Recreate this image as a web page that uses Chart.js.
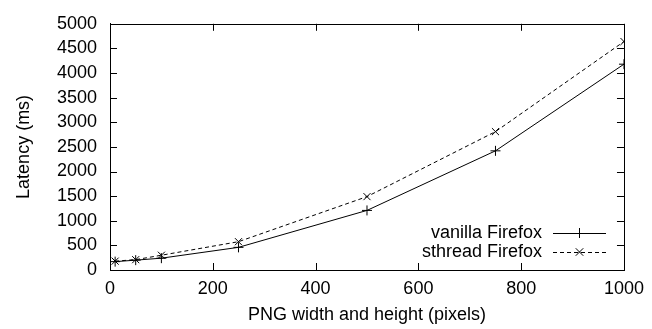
<!DOCTYPE html>
<html><head><meta charset="utf-8">
<script src="https://cdn.jsdelivr.net/npm/chart.js@4.4.1/dist/chart.umd.min.js"></script>
<style>html,body{margin:0;padding:0;background:#fff}#wrap{width:652px;height:329px}</style>
</head><body><div id="wrap"><canvas id="c" width="652" height="329"></canvas></div>
<script>
const sizes = [10, 50, 100, 250, 500, 750, 1000];
const vanilla = [170, 200, 240, 460, 1210, 2420, 4180];
const sthread = [180, 210, 300, 575, 1490, 2810, 4640];
const seriesNames = ['vanilla Firefox', 'sthread Firefox'];
const xTicks = [0, 200, 400, 600, 800, 1000];
const yTicks = [0, 500, 1000, 1500, 2000, 2500, 3000, 3500, 4000, 4500, 5000];
const xTitle = 'PNG width and height (pixels)';
const yTitle = 'Latency (ms)';

const FONT = 'Liberation Sans, Arial, sans-serif';
const FS = 18;

const frame = {
  id: 'frame',
  afterDraw(chart) {
    const {ctx, chartArea: a, scales} = chart;
    ctx.save();
    ctx.strokeStyle = '#000';
    ctx.lineWidth = 1;
    ctx.strokeRect(Math.round(a.left) + 0.5, Math.round(a.top) + 0.5, Math.round(a.right - a.left), Math.round(a.bottom - a.top));
    const tl = 7;
    ctx.beginPath();
    xTicks.forEach(v => {
      const x = Math.round(scales.x.getPixelForValue(v)) + 0.5;
      ctx.moveTo(x, a.bottom); ctx.lineTo(x, a.bottom - tl);
      ctx.moveTo(x, a.top); ctx.lineTo(x, a.top + tl);
    });
    yTicks.forEach(v => {
      const y = Math.round(scales.y.getPixelForValue(v)) + 0.5;
      ctx.moveTo(a.left, y); ctx.lineTo(a.left + tl, y);
      ctx.moveTo(a.right, y); ctx.lineTo(a.right - tl, y);
    });
    ctx.stroke();

    // legend
    ctx.font = FS + 'px ' + FONT;
    ctx.fillStyle = '#000';
    ctx.textAlign = 'right';
    ctx.textBaseline = 'middle';
    const rows = [233, 252];
    chart.data.datasets.forEach((ds, i) => {
      const y = rows[i];
      ctx.fillText(ds.label, 542, y);
      ctx.beginPath();
      ctx.setLineDash(ds.borderDash || []);
      ctx.moveTo(553, y + 0.5); ctx.lineTo(606, y + 0.5);
      ctx.stroke();
      ctx.setLineDash([]);
      const cx = 579.5, r = 5;
      ctx.beginPath();
      if (ds.pointStyle === 'cross') {
        ctx.moveTo(cx - r, y + 0.5); ctx.lineTo(cx + r, y + 0.5);
        ctx.moveTo(cx, y - r); ctx.lineTo(cx, y + r);
      } else {
        const d = r * 0.75;
        ctx.moveTo(cx - d, y - d); ctx.lineTo(cx + d, y + d);
        ctx.moveTo(cx - d, y + d); ctx.lineTo(cx + d, y - d);
      }
      ctx.stroke();
    });
    ctx.restore();
  }
};

new Chart(document.getElementById('c'), {
  type: 'line',
  data: {
    datasets: [
      { label: seriesNames[0], data: sizes.map((x, i) => ({x, y: vanilla[i]})),
        borderColor: '#000', borderWidth: 1, pointStyle: 'cross', pointRadius: 5,
        pointBorderColor: '#000', pointBorderWidth: 1, tension: 0, fill: false },
      { label: seriesNames[1], data: sizes.map((x, i) => ({x, y: sthread[i]})),
        borderColor: '#000', borderWidth: 1, borderDash: [4, 3], pointStyle: 'crossRot', pointRadius: 5,
        pointBorderColor: '#000', pointBorderWidth: 1, tension: 0, fill: false }
    ]
  },
  options: {
    responsive: false, animation: false, devicePixelRatio: 1,
    layout: { padding: { top: 15, right: 24, left: 0, bottom: 0 } },
    plugins: { legend: { display: false }, tooltip: { enabled: false } },
    scales: {
      x: {
        type: 'linear', min: 0, max: 1000,
        afterBuildTicks: s => { s.ticks = xTicks.map(v => ({value: v})); },
        afterFit: s => { s.height = 59; },
        grid: { display: false, drawTicks: false },
        border: { display: true, color: '#000', width: 1 },
        ticks: { color: '#000', font: { family: FONT, size: FS }, padding: 8, autoSkip: false, maxRotation: 0, callback: v => String(v) },
        title: { display: true, text: xTitle, color: '#000', font: { family: FONT, size: FS }, padding: { top: 0, bottom: 3 } }
      },
      y: {
        type: 'linear', min: 0, max: 5000,
        afterBuildTicks: s => { s.ticks = yTicks.map(v => ({value: v})); },
        afterFit: s => { s.width = 110; },
        grid: { display: false, drawTicks: false },
        border: { display: true, color: '#000', width: 1 },
        ticks: { color: '#000', font: { family: FONT, size: FS }, padding: 13, autoSkip: false, callback: v => String(v) },
        title: { display: true, text: yTitle, color: '#000', font: { family: FONT, size: FS }, padding: { top: 13, bottom: 0 } }
      }
    }
  },
  plugins: [frame]
});
</script></body></html>
